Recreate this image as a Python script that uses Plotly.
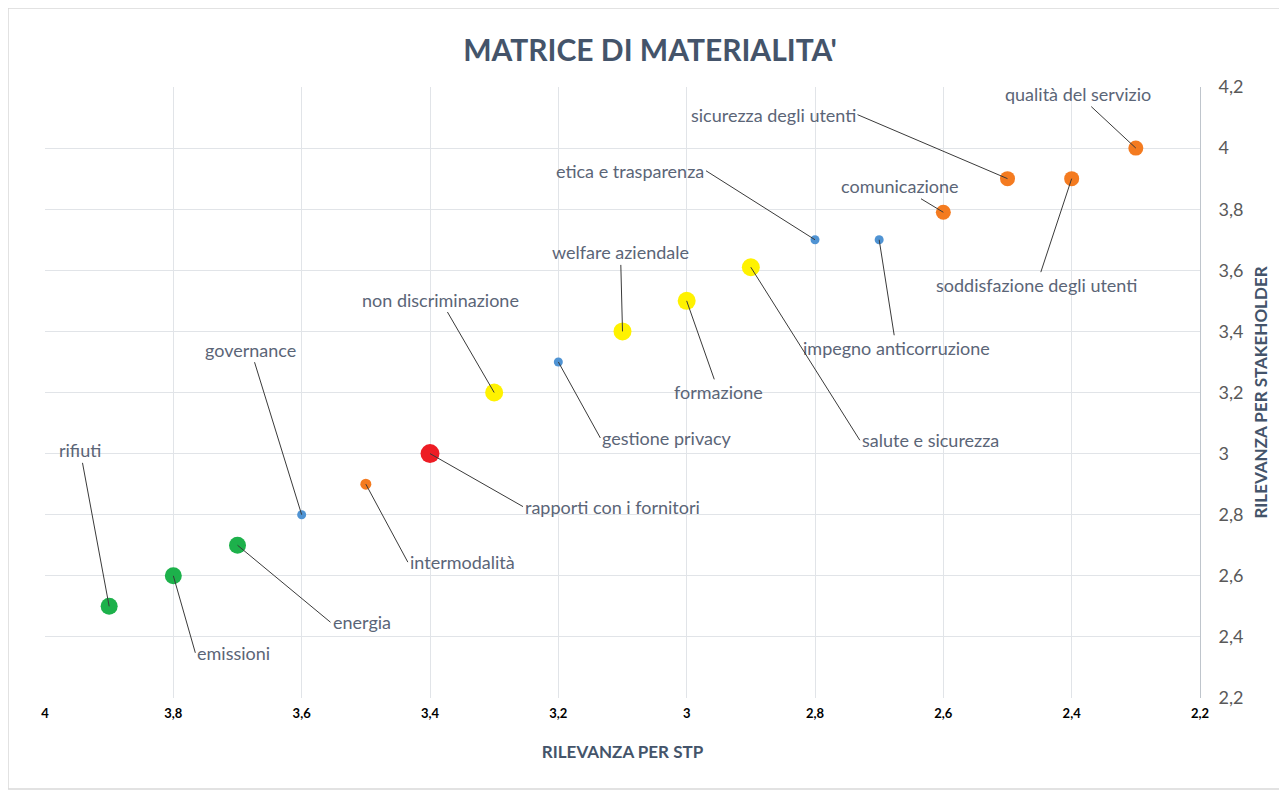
import plotly.graph_objects as go

# temi materiali
temi = ["qualità del servizio", "sicurezza degli utenti", "soddisfazione degli utenti",
        "comunicazione", "etica e trasparenza", "impegno anticorruzione",
        "salute e sicurezza", "formazione", "welfare aziendale", "gestione privacy",
        "non discriminazione", "rapporti con i fornitori", "intermodalità",
        "governance", "energia", "emissioni", "rifiuti"]
rilevanza_stp = [2.3, 2.5, 2.4, 2.6, 2.8, 2.7, 2.9, 3.0, 3.1, 3.2, 3.3, 3.4, 3.5, 3.6, 3.7, 3.8, 3.9]
rilevanza_stakeholder = [4.0, 3.9, 3.9, 3.79, 3.7, 3.7, 3.61, 3.5, 3.4, 3.3, 3.2, 3.0, 2.9, 2.8, 2.7, 2.6, 2.5]
area = ["utenti", "utenti", "utenti", "utenti", "governance", "governance",
        "personale", "personale", "personale", "governance", "personale",
        "fornitori", "utenti", "governance", "ambiente", "ambiente", "ambiente"]

x_ticks = [4, 3.8, 3.6, 3.4, 3.2, 3, 2.8, 2.6, 2.4, 2.2]
y_ticks = [2.2, 2.4, 2.6, 2.8, 3, 3.2, 3.4, 3.6, 3.8, 4, 4.2]

# stile per area
stile = {
    "utenti": ("#F47B20", 15),
    "governance": ("#4F93D3", 9),
    "personale": ("#FFF200", 18),
    "fornitori": ("#ED1C24", 19),
    "ambiente": ("#1DB14B", 17),
}
dimensione = {"intermodalità": 11}

# posizione etichette: (dx, dy, ancoraggio)
etichette = {
    "qualità del servizio": (-58, -54, "center"),
    "sicurezza degli utenti": (-150, -64, "right"),
    "soddisfazione degli utenti": (-35, 106, "center"),
    "comunicazione": (-43, -26, "center"),
    "etica e trasparenza": (-109, -69, "right"),
    "impegno anticorruzione": (17, 108, "center"),
    "salute e sicurezza": (109, 173, "left"),
    "formazione": (32, 91, "center"),
    "welfare aziendale": (-2, -79, "center"),
    "gestione privacy": (42, 76, "left"),
    "non discriminazione": (-54, -93, "center"),
    "rapporti con i fornitori": (93, 53, "left"),
    "intermodalità": (42, 78, "left"),
    "governance": (-51, -165, "center"),
    "energia": (93, 77, "left"),
    "emissioni": (22, 77, "left"),
    "rifiuti": (-29, -156, "center"),
}

colori = [stile[a][0] for a in area]
sizes = [dimensione.get(t, stile[a][1]) for t, a in zip(temi, area)]

fig = go.Figure()
fig.add_trace(go.Scatter(
    x=rilevanza_stp, y=rilevanza_stakeholder, mode="markers", text=temi,
    marker=dict(color=colori, size=sizes, opacity=1, line=dict(width=0)),
    hoverinfo="text", showlegend=False,
))

for t, xv, yv in zip(temi, rilevanza_stp, rilevanza_stakeholder):
    dx, dy, anc = etichette[t]
    fig.add_annotation(
        x=xv, y=yv, text=t, showarrow=True, ax=dx, ay=dy,
        xanchor=anc, arrowhead=0, arrowwidth=1, arrowcolor="#3A3A3A",
        standoff=0, font=dict(family="Lato", size=18, color="#5B6577"),
    )

W, H = 1279, 783
ml, mr, mt, mb = 37, 87, 79, 93
pw, ph = W - ml - mr, H - mt - mb
# cornice del grafico
fig.add_shape(type="rect", xref="paper", yref="paper",
              x0=-ml / pw, x1=1 + (mr - 2) / pw, y0=-(mb - 2) / ph, y1=1 + mt / ph,
              line=dict(color="#D9D9D9", width=1.5), layer="below")

fig.update_layout(
    width=W, height=H,
    margin=dict(l=ml, r=mr, t=mt, b=mb),
    paper_bgcolor="white", plot_bgcolor="white",
    separators=",.",
    title=dict(text="MATRICE DI MATERIALITA'", x=0.502, xref="container",
               y=1 - 42 / H, yref="container", xanchor="center", yanchor="middle",
               font=dict(family="Lato", size=30, color="#44546A", weight="bold")),
    xaxis=dict(range=[4, 2.2], tickvals=x_ticks, showgrid=True, gridcolor="#E1E4E8",
               zeroline=False, showline=False, ticks="", ticklabelstandoff=6,
               tickfont=dict(family="Lato", size=13, color="black", weight="bold"),
               title=dict(text="RILEVANZA PER STP", standoff=26,
                          font=dict(family="Lato", size=17, color="#44546A", weight="bold"))),
    yaxis=dict(range=[2.2, 4.2], tickvals=y_ticks, side="right", showgrid=True,
               gridcolor="#E1E4E8", zeroline=False, showline=True, linecolor="#BFC5CC",
               ticks="", ticklabelstandoff=14, tickfont=dict(family="Lato", size=18, color="#595959"),
               title=dict(text="RILEVANZA PER STAKEHOLDER", standoff=12,
                          font=dict(family="Lato", size=17, color="#44546A", weight="bold"))),
)

fig.write_html("out.html")
